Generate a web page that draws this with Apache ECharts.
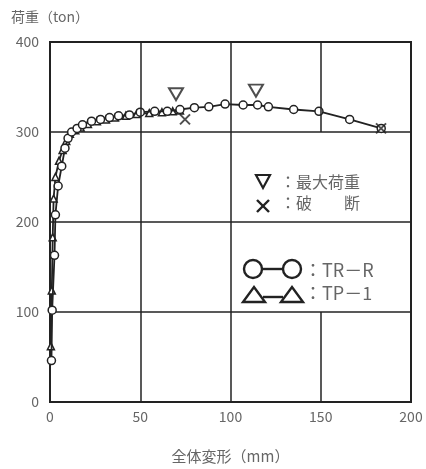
<!DOCTYPE html>
<html><head><meta charset="utf-8">
<script src="https://cdn.jsdelivr.net/npm/echarts@6/dist/echarts.min.js"></script>
<style>html,body{margin:0;padding:0;background:#fff}#c{width:426px;height:469px}</style>
</head><body><div id="c"></div>
<script>
// TR-R (circles)
const trrX = [0.8, 1.2, 2.5, 3, 4.5, 6.5, 8.3, 10, 12, 15, 18, 23, 28, 33, 38, 44, 50, 58, 65, 72, 80, 88, 97, 107, 115, 121, 135, 149, 166, 183.5];
const trrY = [46, 102, 163, 208, 240, 262, 282, 293, 300, 304, 308, 312, 314, 316, 318, 319, 322, 323, 323, 325, 327, 328, 331, 330, 330, 328, 325, 323, 314, 304];
// TP-1 (triangles)
const tp1X = [0.5, 1, 1.5, 2, 3, 5, 7, 9, 11, 14, 17, 21, 26, 31, 36, 42, 48, 55, 62, 68, 72];
const tp1Y = [62, 124, 183, 226, 250, 268, 280, 290, 298, 302, 305, 309, 312, 314, 316, 318, 320, 321, 322, 323, 324];
// Max load markers
const maxX = [69.8, 114.1];
const maxY = [342, 346];
// Fracture markers
const fracX = [74.8, 183.4];
const fracY = [314, 304];
// Axis ticks
const xTicks = [0, 50, 100, 150, 200];
const yTicks = [0, 100, 200, 300, 400];

const zip = (a, b) => a.map((v, i) => [v, b[i]]);
const ink = '#222';
const txt = '#666';
const font = '"Noto Sans CJK JP", "Noto Sans", sans-serif';

const chart = echarts.init(document.getElementById('c'));
chart.setOption({
  animation: false,
  grid: { left: 50, right: 15, top: 42, bottom: 56, show: true, borderColor: ink, borderWidth: 2 },
  xAxis: {
    type: 'value', min: xTicks[0], max: xTicks[xTicks.length - 1], interval: 50,
    name: '全体変形（mm）', nameLocation: 'middle', nameGap: 47,
    nameTextStyle: { color: txt, fontSize: 15, fontFamily: font },
    axisLine: { show: true, lineStyle: { color: ink, width: 2 } },
    axisTick: { show: false },
    splitLine: { show: false },
    axisLabel: { color: txt, fontSize: 14, fontFamily: font, margin: 8 }
  },
  yAxis: {
    type: 'value', min: yTicks[0], max: yTicks[yTicks.length - 1], interval: 100,
    name: '荷重（ton）', nameLocation: 'end', nameGap: 18,
    nameTextStyle: { color: txt, fontSize: 14, fontFamily: font, align: 'center' },
    axisLine: { show: true, lineStyle: { color: ink, width: 2 } },
    axisTick: { show: false },
    splitLine: { show: true, lineStyle: { color: ink, width: 1.5 } },
    axisLabel: { color: txt, fontSize: 14, fontFamily: font, margin: 11 }
  },
  series: [
    {
      type: 'line', data: [], silent: true,
      markLine: {
        silent: true, symbol: 'none', label: { show: false },
        lineStyle: { color: ink, width: 1.5, type: 'solid' },
        data: [
          [{ coord: [50, 0] }, { coord: [50, 400] }],
          [{ coord: [100, 0] }, { coord: [100, 400] }],
          [{ coord: [150, 300] }, { coord: [150, 400] }],
          [{ coord: [150, 0] }, { coord: [150, 100] }]
        ]
      }
    },
    {
      name: 'TP-1', type: 'line', data: zip(tp1X, tp1Y), symbol: 'triangle', symbolSize: 7,
      lineStyle: { color: ink, width: 1.8 },
      itemStyle: { color: '#fff', borderColor: ink, borderWidth: 1.5 }, z: 3
    },
    {
      name: 'TR-R', type: 'line', data: zip(trrX, trrY), symbol: 'circle', symbolSize: 8,
      lineStyle: { color: ink, width: 1.8 },
      itemStyle: { color: '#fff', borderColor: ink, borderWidth: 1.5 }, z: 4
    },
    {
      name: '最大荷重', type: 'scatter', data: zip(maxX, maxY), symbol: 'triangle', symbolRotate: 180,
      symbolSize: [14, 12], itemStyle: { color: '#fff', borderColor: ink, borderWidth: 2 }, z: 5
    },
    {
      name: '破断', type: 'scatter', data: zip(fracX, fracY), symbol: 'path://M0,0L10,10M10,0L0,10',
      symbolSize: 10, itemStyle: { color: 'transparent', borderColor: ink, borderWidth: 2 }, z: 5
    }
  ],
  graphic: [
    { type: 'polygon', shape: { points: [[256, 175], [270, 175], [263, 188]] }, style: { fill: '#fff', stroke: ink, lineWidth: 2.2 } },
    { type: 'text', left: 280, top: 174, style: { text: '：最大荷重', fill: txt, font: '16px ' + font } },
    { type: 'polyline', shape: { points: [[257, 200], [269, 212]] }, style: { stroke: ink, lineWidth: 2.4 } },
    { type: 'polyline', shape: { points: [[269, 200], [257, 212]] }, style: { stroke: ink, lineWidth: 2.4 } },
    { type: 'text', left: 280, top: 195, style: { text: '：破　　断', fill: txt, font: '16px ' + font } },
    { type: 'line', shape: { x1: 262, y1: 269, x2: 283, y2: 269 }, style: { stroke: ink, lineWidth: 2.4 } },
    { type: 'circle', shape: { cx: 253, cy: 269, r: 9 }, style: { fill: '#fff', stroke: ink, lineWidth: 2.4 } },
    { type: 'circle', shape: { cx: 292, cy: 269, r: 9 }, style: { fill: '#fff', stroke: ink, lineWidth: 2.4 } },
    { type: 'text', left: 304, top: 261, style: { text: '：TR－R', fill: txt, font: '18px ' + font } },
    { type: 'line', shape: { x1: 263, y1: 297, x2: 283, y2: 297 }, style: { stroke: ink, lineWidth: 2.4 } },
    { type: 'polygon', shape: { points: [[243, 302], [265, 302], [254, 287]] }, style: { fill: '#fff', stroke: ink, lineWidth: 2.4 } },
    { type: 'polygon', shape: { points: [[281, 302], [303, 302], [292, 287]] }, style: { fill: '#fff', stroke: ink, lineWidth: 2.4 } },
    { type: 'text', left: 304, top: 284, style: { text: '：TP－1', fill: txt, font: '18px ' + font } }
  ]
});
</script></body></html>
